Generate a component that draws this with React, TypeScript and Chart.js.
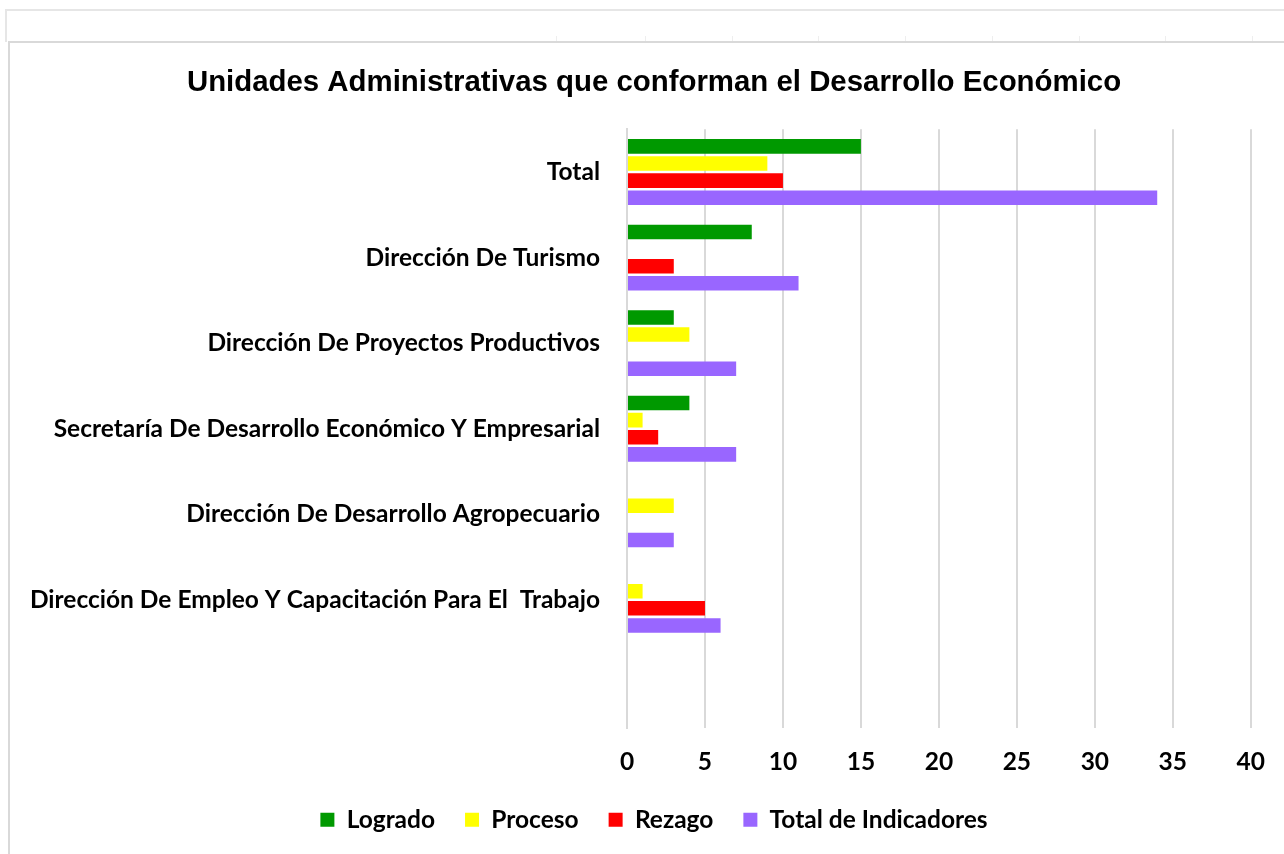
import React, { useEffect, useRef } from "react";
import { Chart, registerables } from "chart.js";

Chart.register(...registerables);

const categories = [
  "Total",
  "Dirección De Turismo",
  "Dirección De Proyectos Productivos",
  "Secretaría De Desarrollo Económico Y Empresarial",
  "Dirección De Desarrollo Agropecuario",
  "Dirección De Empleo Y Capacitación Para El  Trabajo",
  "",
];

const logrado = [15, 8, 3, 4, 0, 0, null];
const proceso = [9, 0, 4, 1, 3, 1, null];
const rezago = [10, 3, 0, 2, 0, 5, null];
const totalIndicadores = [34, 11, 7, 7, 3, 6, null];

const seriesNames = ["Logrado", "Proceso", "Rezago", "Total de Indicadores"];
const seriesColors = ["#009900", "#FFFF00", "#FF0000", "#9966FF"];

const xTicks = [0, 5, 10, 15, 20, 25, 30, 35, 40];

const titleText = "Unidades Administrativas que conforman el Desarrollo Económico";

const labelFont = { family: "Lato, 'Open Sans', sans-serif", size: 24.5, weight: "bold" as const };

export default function App() {
  const ref = useRef<HTMLCanvasElement | null>(null);

  useEffect(() => {
    if (!ref.current) return;
    const values = [logrado, proceso, rezago, totalIndicadores];
    const chart = new Chart(ref.current, {
      type: "bar",
      data: {
        labels: categories,
        datasets: values.map((v, i) => ({
          label: seriesNames[i],
          data: v,
          backgroundColor: seriesColors[i],
          borderWidth: 0,
          categoryPercentage: 0.8,
          barPercentage: 0.85,
        })),
      },
      options: {
        indexAxis: "y",
        animation: false,
        responsive: false,
        maintainAspectRatio: false,
        layout: { padding: { top: 0, right: 0, bottom: 12, left: 14 } },
        plugins: {
          title: {
            display: true,
            text: titleText,
            color: "#000",
            font: { family: "'Liberation Sans', Arial, sans-serif", size: 29.4, weight: "bold" },
            padding: { top: 22, bottom: 29 },
          },
          legend: {
            position: "bottom",
            labels: {
              color: "#000",
              font: labelFont,
              boxWidth: 14,
              boxHeight: 14,
              padding: 30,
            },
          },
          tooltip: { enabled: false },
        },
        scales: {
          x: {
            min: 0,
            max: 40,
            afterBuildTicks: (scale: any) => {
              scale.ticks = xTicks.map((v) => ({ value: v }));
            },
            afterFit: (scale: any) => {
              scale.height = scale.height - 18;
            },
            grid: { color: "#d9d9d9", lineWidth: 2, drawTicks: false },
            border: { display: false },
            ticks: {
              color: "#000",
              padding: 19,
              font: labelFont,
            },
          },
          y: {
            grid: { display: false },
            border: { display: true, color: "#d9d9d9", width: 2 },
            afterFit: (scale: any) => {
              scale.width = 603;
            },
            ticks: {
              color: "#000",
              padding: 19,
              autoSkip: false,
              font: labelFont,
            },
          },
          yRight: {
            type: "category",
            position: "right",
            display: true,
            grid: { display: false },
            border: { display: false },
            ticks: { display: false },
            afterFit: (scale: any) => {
              scale.width = 33;
            },
          },
        },
      },
    });
    return () => chart.destroy();
  }, []);

  const tickXs = [556, 645, 732, 818, 905, 992, 1079, 1165, 1252];

  return (
    <div style={{ position: "fixed", left: 0, top: 0, width: 1284, height: 854, background: "#fff", overflow: "hidden" }}>
      <div style={{ position: "absolute", left: 5, top: 9, width: 1279, height: 2, background: "#e6e6e6" }} />
      <div style={{ position: "absolute", left: 5, top: 9, width: 2, height: 33, background: "#e6e6e6" }} />
      {tickXs.map((x) => (
        <div key={x} style={{ position: "absolute", left: x, top: 36, width: 1, height: 6, background: "#eeeeee" }} />
      ))}
      <div style={{ position: "absolute", left: 8, top: 41, width: 1276, height: 2, background: "#d9d9d9" }} />
      <div style={{ position: "absolute", left: 8, top: 41, width: 2, height: 813, background: "#d9d9d9" }} />
      <canvas ref={ref} width={1274} height={811} style={{ position: "absolute", left: 10, top: 43, width: 1274, height: 811 }} />
    </div>
  );
}
